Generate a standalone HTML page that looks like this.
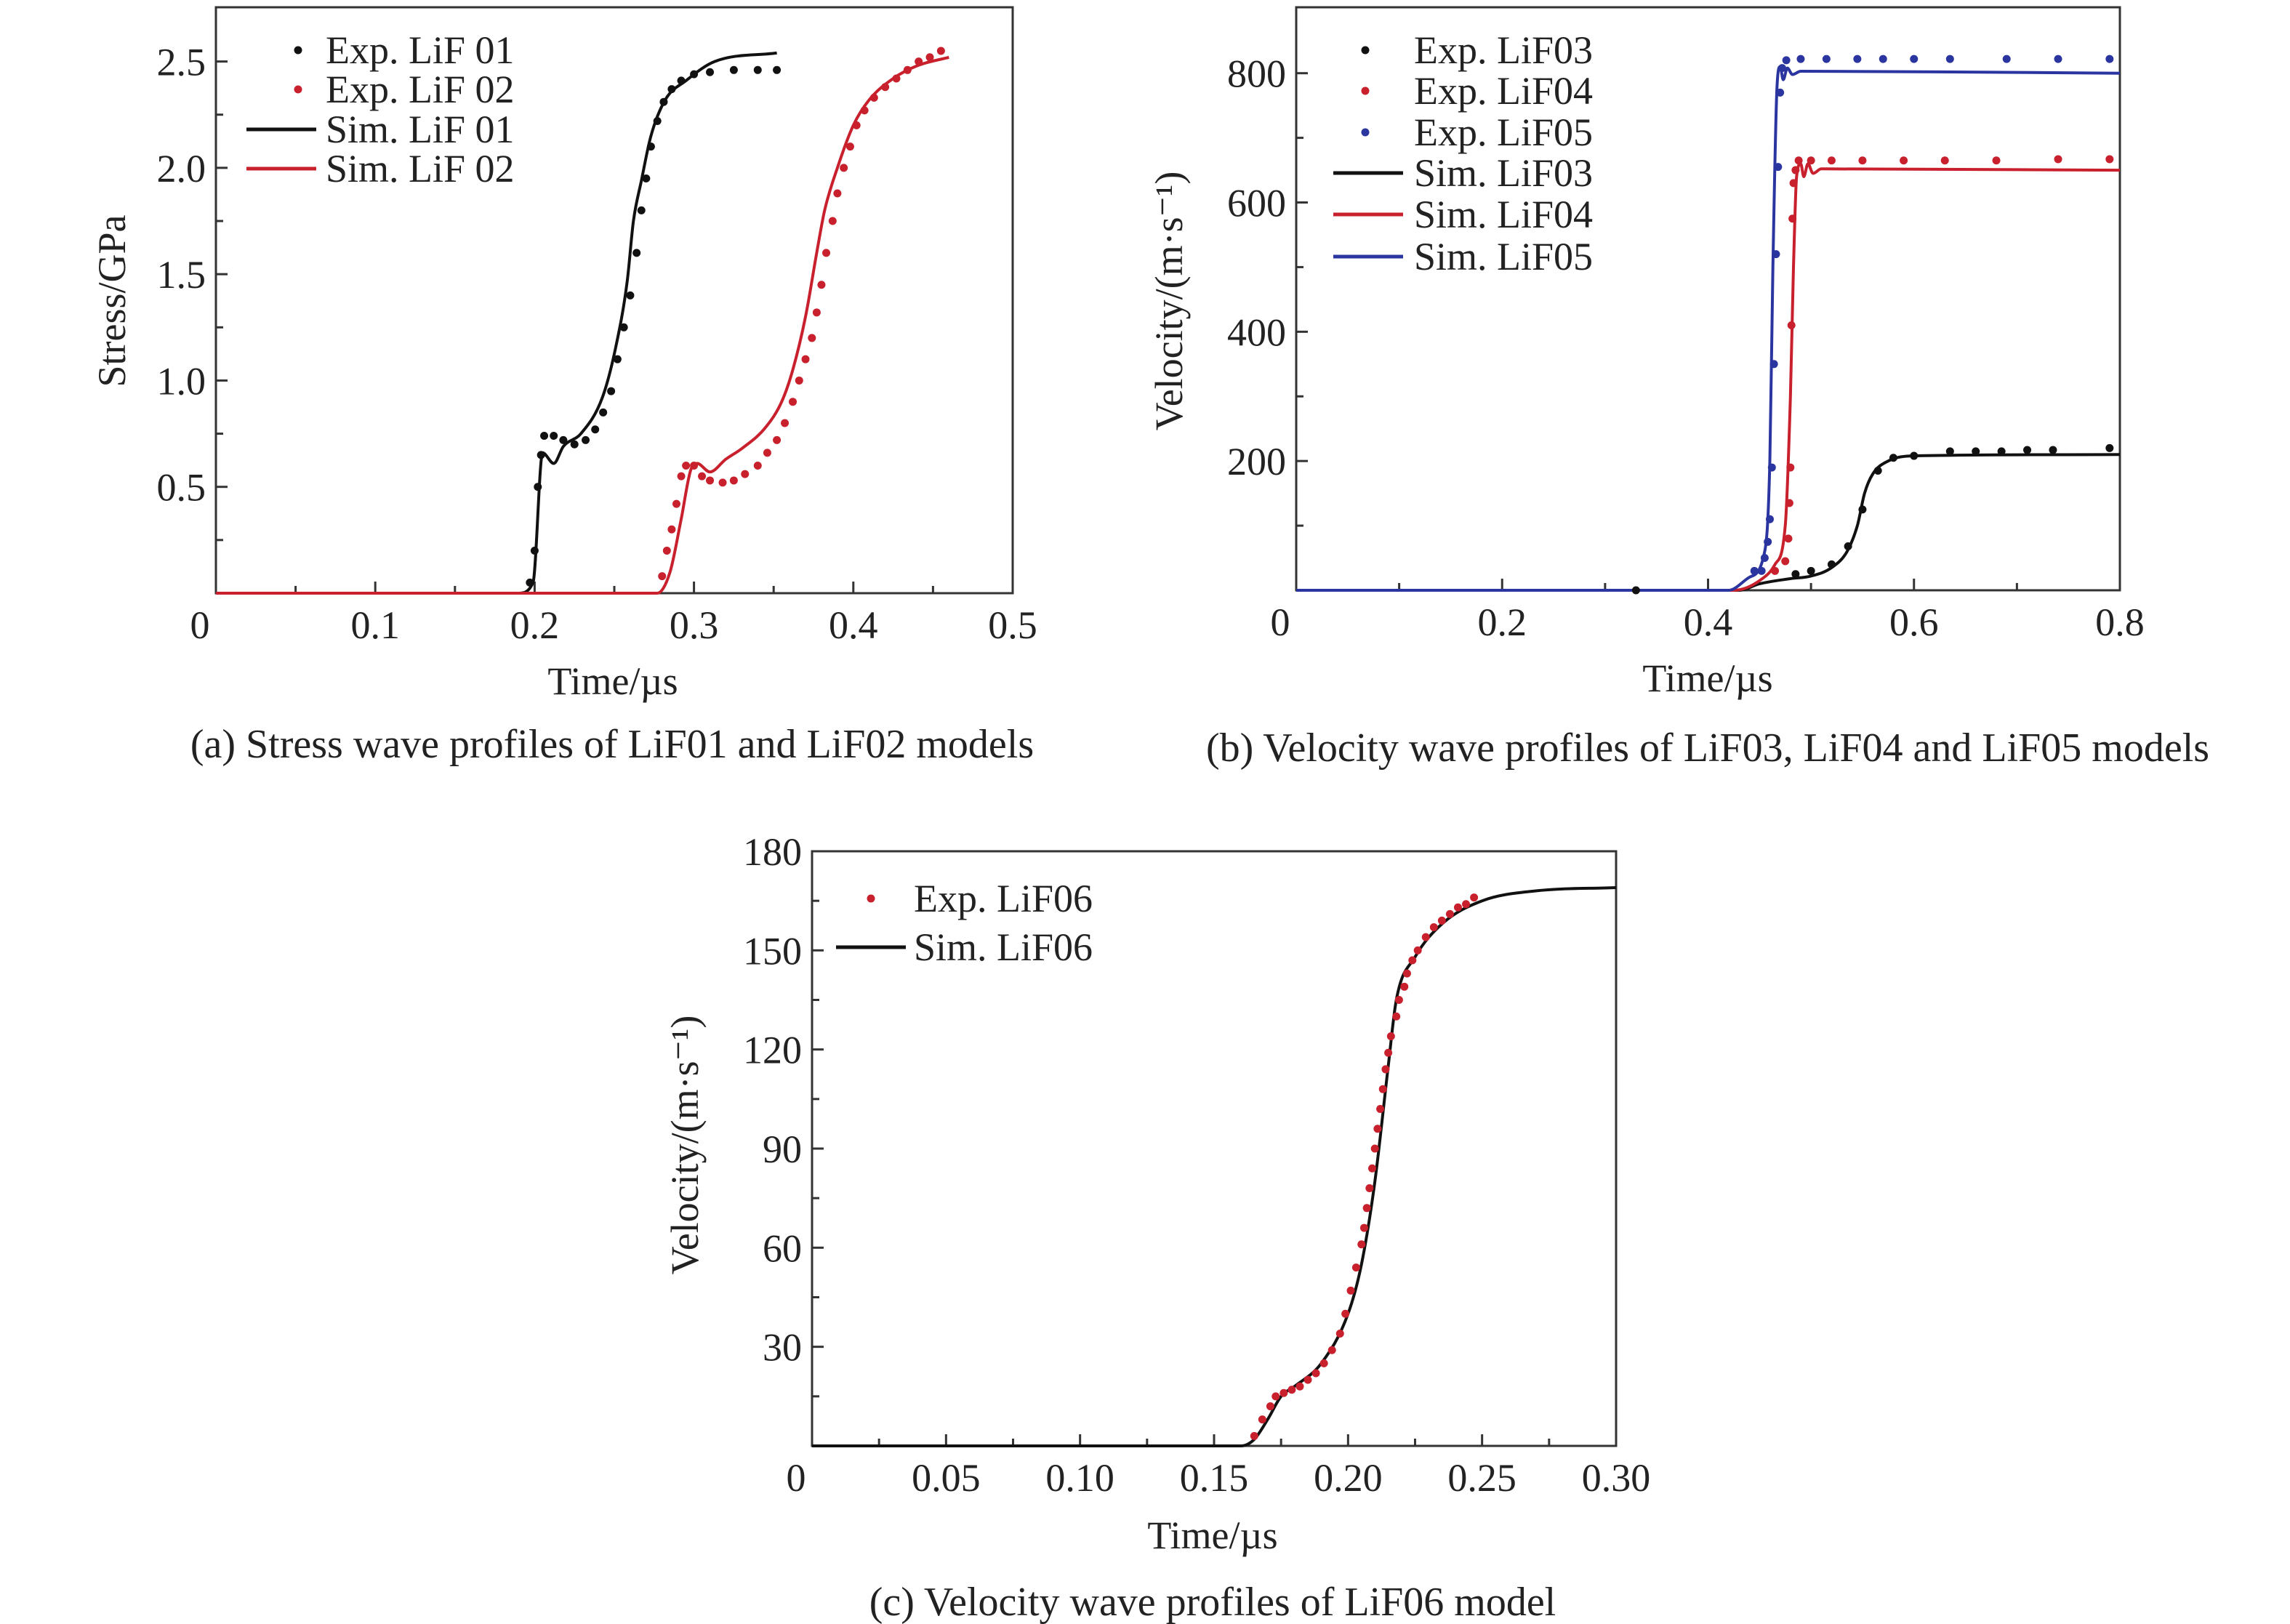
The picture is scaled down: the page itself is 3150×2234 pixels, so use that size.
<!DOCTYPE html>
<html><head><meta charset="utf-8"><style>
html,body{margin:0;padding:0;background:#fff}
svg{display:block}
text{font-family:"Liberation Serif",serif;fill:#222}
</style></head><body>
<svg id="fig" width="3150" height="2234" viewBox="0 0 3150 2234" xmlns="http://www.w3.org/2000/svg"></svg>
<script>
// ---- Panel (a) data ----
const aSim01T=[0,0.19,0.199,0.205,0.212,0.218,0.229,0.2425,0.251,0.258,0.262,0.267,0.273,0.282,0.295,0.313,0.352];
const aSim01V=[0,0,0.05,0.66,0.61,0.69,0.75,0.92,1.16,1.46,1.75,1.94,2.15,2.32,2.41,2.5,2.54];
const aExp01T=[0.197,0.2,0.202,0.204,0.206,0.212,0.218,0.225,0.232,0.238,0.243,0.248,0.252,0.256,0.26,0.264,0.267,0.27,0.273,0.277,0.281,0.286,0.292,0.3,0.31,0.325,0.34,0.352];
const aExp01V=[0.05,0.2,0.5,0.65,0.74,0.74,0.72,0.7,0.72,0.77,0.85,0.95,1.1,1.25,1.4,1.6,1.8,1.95,2.1,2.22,2.31,2.37,2.41,2.44,2.45,2.46,2.46,2.46];
const aSim02T=[0,0.277,0.285,0.292,0.298,0.302,0.31,0.32,0.33,0.345,0.355,0.362,0.37,0.377,0.382,0.39,0.4,0.41,0.425,0.44,0.46];
const aSim02V=[0,0,0.1,0.35,0.58,0.61,0.57,0.63,0.68,0.78,0.9,1.05,1.3,1.6,1.8,2.0,2.2,2.32,2.42,2.48,2.52];
const aExp02T=[0.28,0.283,0.286,0.289,0.292,0.295,0.3,0.305,0.31,0.318,0.325,0.332,0.34,0.346,0.352,0.357,0.362,0.366,0.37,0.374,0.377,0.38,0.383,0.387,0.39,0.394,0.398,0.402,0.407,0.413,0.42,0.427,0.434,0.441,0.448,0.455];
const aExp02V=[0.08,0.2,0.3,0.42,0.55,0.6,0.6,0.55,0.53,0.52,0.53,0.56,0.6,0.66,0.72,0.8,0.9,1.0,1.1,1.2,1.32,1.45,1.6,1.75,1.88,2.0,2.1,2.2,2.27,2.33,2.38,2.42,2.46,2.5,2.52,2.55];
const aXTicks=[0,0.1,0.2,0.3,0.4,0.5];
const aXLabels=["0","0.1","0.2","0.3","0.4","0.5"];
const aYTicks=[0.5,1.0,1.5,2.0,2.5];
const aYLabels=["0.5","1.0","1.5","2.0","2.5"];
// ---- Panel (b) data ----
const bSim05T=[0,0.42,0.44,0.455,0.46,0.463,0.467,0.47,0.473,0.477,0.482,0.49,0.8];
const bSim05V=[0,0,20,60,200,500,780,810,790,808,798,803,800];
const bExp05T=[0.445,0.452,0.455,0.458,0.46,0.462,0.464,0.466,0.468,0.47,0.472,0.476,0.49,0.515,0.545,0.57,0.6,0.635,0.69,0.74,0.79];
const bExp05V=[30,30,50,75,110,190,350,520,655,770,808,820,822,822,822,822,822,822,822,822,822];
const bSim04T=[0,0.425,0.45,0.465,0.475,0.48,0.483,0.486,0.49,0.493,0.497,0.502,0.51,0.8];
const bSim04V=[0,0,15,40,100,300,500,640,660,640,660,645,652,650];
const bExp04T=[0.465,0.475,0.478,0.479,0.48,0.481,0.482,0.483,0.485,0.488,0.5,0.52,0.55,0.59,0.63,0.68,0.74,0.79];
const bExp04V=[30,45,80,135,190,410,575,630,650,665,665,665,665,665,665,665,667,667];
const bSim03T=[0,0.43,0.45,0.48,0.5,0.52,0.535,0.545,0.552,0.56,0.575,0.6,0.8];
const bSim03V=[0,0,10,18,22,35,60,100,150,180,200,208,210];
const bExp03T=[0.33,0.485,0.5,0.52,0.536,0.55,0.565,0.58,0.6,0.635,0.66,0.685,0.71,0.735,0.79];
const bExp03V=[0,25,30,40,68,125,185,205,208,215,215,215,217,217,220];
const bXTicks=[0,0.2,0.4,0.6,0.8];
const bXLabels=["0","0.2","0.4","0.6","0.8"];
const bYTicks=[200,400,600,800];
const bYLabels=["200","400","600","800"];
// ---- Panel (c) data ----
const cSimT=[0,0.16,0.165,0.17,0.175,0.18,0.19,0.2,0.205,0.21,0.215,0.218,0.225,0.235,0.25,0.27,0.3];
const cSimV=[0,0,2,8,15,18,25,40,55,80,115,135,148,158,165,168,169];
const cExpT=[0.165,0.168,0.171,0.173,0.176,0.179,0.182,0.185,0.188,0.191,0.194,0.197,0.199,0.201,0.203,0.205,0.206,0.207,0.208,0.209,0.21,0.211,0.212,0.213,0.214,0.215,0.216,0.218,0.219,0.221,0.222,0.224,0.226,0.229,0.232,0.235,0.238,0.241,0.244,0.247];
const cExpV=[3,8,12,15,16,17,18,20,22,25,29,34,40,47,54,61,66,72,78,84,90,96,102,108,114,119,124,130,135,139,143,147,150,154,157,159,161,163,164,166];
const cXTicks=[0,0.05,0.10,0.15,0.20,0.25,0.30];
const cXLabels=["0","0.05","0.10","0.15","0.20","0.25","0.30"];
const cYTicks=[30,60,90,120,150,180];
const cYLabels=["30","60","90","120","150","180"];

const NS="http://www.w3.org/2000/svg";
const svg=document.getElementById('fig');
function mk(tag,attrs,parent){const e=document.createElementNS(NS,tag);for(const k in attrs)e.setAttribute(k,attrs[k]);(parent||svg).appendChild(e);return e;}
function txt(s,x,y,size,anchor,parent,rot){const t=mk('text',{x:x,y:y,'font-size':size,'text-anchor':anchor||'middle'},parent);if(rot)t.setAttribute('transform','rotate(-90 '+x+' '+y+')');t.textContent=s;return t;}
// monotone cubic (Fritsch–Carlson) path through screen points with increasing x
function smooth(p){
  const n=p.length;const d=[],m=[];
  for(let i=0;i<n-1;i++)d.push((p[i+1][1]-p[i][1])/(p[i+1][0]-p[i][0]));
  m[0]=d[0];m[n-1]=d[n-2];
  for(let i=1;i<n-1;i++){m[i]=(d[i-1]*d[i]<=0)?0:(d[i-1]+d[i])/2;}
  for(let i=0;i<n-1;i++){
    if(d[i]===0){m[i]=0;m[i+1]=0;continue;}
    const a=m[i]/d[i],b=m[i+1]/d[i],h=a*a+b*b;
    if(h>9){const t=3/Math.sqrt(h);m[i]=t*a*d[i];m[i+1]=t*b*d[i];}
  }
  let s='M'+p[0][0].toFixed(1)+' '+p[0][1].toFixed(1);
  for(let i=0;i<n-1;i++){
    const h=(p[i+1][0]-p[i][0])/3;
    s+=' C'+(p[i][0]+h).toFixed(1)+' '+(p[i][1]+m[i]*h).toFixed(1)+' '+(p[i+1][0]-h).toFixed(1)+' '+(p[i+1][1]-m[i+1]*h).toFixed(1)+' '+p[i+1][0].toFixed(1)+' '+p[i+1][1].toFixed(1);
  }
  return s;
}
const FS=54;
function panel(cfg){
  const g=mk('g',{});
  
  
  const L=cfg.L,R=cfg.R,T=cfg.T,B=cfg.B;
  const sx=v=>L+(v-cfg.x0)/(cfg.x1-cfg.x0)*(R-L);
  const sy=v=>B-(v-cfg.y0)/(cfg.y1-cfg.y0)*(B-T);
  const box=mk('rect',{x:L,y:T,width:R-L,height:B-T,fill:'none',stroke:'#333','stroke-width':3},g);
  
  
  cfg.xt.forEach((v,i)=>{
    mk('line',{x1:sx(v),x2:sx(v),y1:B,y2:B-16,stroke:'#333','stroke-width':3},g);
    if(i<cfg.xt.length-1){const m=(v+cfg.xt[i+1])/2;mk('line',{x1:sx(m),x2:sx(m),y1:B,y2:B-10,stroke:'#333','stroke-width':3},g);}
    const t=txt(cfg.xl[i],sx(v)+(i==0?-22:0),B+62,FS,'middle',g);
    
    
  });
  cfg.yt.forEach((v,i)=>{
    mk('line',{x1:L,x2:L+16,y1:sy(v),y2:sy(v),stroke:'#333','stroke-width':3},g);
    const prev=i==0?cfg.y0:cfg.yt[i-1];const m=(v+prev)/2;
    mk('line',{x1:L,x2:L+10,y1:sy(m),y2:sy(m),stroke:'#333','stroke-width':3},g);
    const t=txt(cfg.yl[i],L-14,sy(v)+19,FS,'end',g);
    
    
  });
  const xt=txt('Time/µs',cfg.xtx,cfg.xty,FS,'middle',g);
  
  
  const yt=txt(cfg.ytitle,cfg.ytx,cfg.yty,FS,'middle',g,true);
  
  
  const cap=txt(cfg.caption,cfg.capx,cfg.capy,56,'middle',g);
  
  
  cfg.lines.forEach(s=>{
    const d=smooth(s.t.map((v,i)=>[sx(v),sy(s.v[i])]));
    const p=mk('path',{d:d,fill:'none',stroke:s.c,'stroke-width':4,'stroke-linejoin':'round'},g);
    
    
  });
  cfg.dots.forEach(s=>{
    const dg=mk('g',{fill:s.c},g);
    
    
    s.t.forEach((v,i)=>{mk('circle',{cx:sx(v),cy:sy(s.v[i]),r:5.5},dg);});
  });
  const lg=mk('g',{},g);
  
  
  cfg.legend.forEach(e=>{
    const eg=mk('g',{},lg);
    
    
    if(e.dot) mk('circle',{cx:e.mx,cy:e.y,r:5.5,fill:e.c},eg);
    else mk('line',{x1:e.mx-48,x2:e.mx+48,y1:e.y,y2:e.y,stroke:e.c,'stroke-width':5},eg);
    txt(e.s,cfg.legx,e.y+18,FS,'start',eg);
  });
}
const K='#111',Rd='#c8202c',Bl='#2b35a0';
panel({name:'panel-a-stress',L:297,R:1393,T:10,B:816,x0:0,x1:0.5,y0:0,y1:2.755,
  xt:aXTicks,xl:aXLabels,yt:aYTicks,yl:aYLabels,xtx:843,xty:955,ytitle:'Stress/GPa',ytx:172,yty:414,
  caption:'(a) Stress wave profiles of LiF01 and LiF02 models',capx:842,capy:1042,
  lines:[{t:aSim01T,v:aSim01V,c:K,n:'sim-lif01-line'},{t:aSim02T,v:aSim02V,c:Rd,n:'sim-lif02-line'}],
  dots:[{t:aExp01T,v:aExp01V,c:K,n:'exp-lif01-points'},{t:aExp02T,v:aExp02V,c:Rd,n:'exp-lif02-points'}],
  legx:448,legend:[{dot:1,mx:410,y:69,c:K,s:'Exp. LiF 01'},{dot:1,mx:410,y:123,c:Rd,s:'Exp. LiF 02'},{mx:387,y:178,c:K,s:'Sim. LiF 01'},{mx:387,y:232,c:Rd,s:'Sim. LiF 02'}]});
panel({name:'panel-b-velocity',L:1783,R:2916,T:10,B:812,x0:0,x1:0.8,y0:0,y1:902,
  xt:bXTicks,xl:bXLabels,yt:bYTicks,yl:bYLabels,xtx:2349,xty:951,ytitle:'Velocity/(m·s⁻¹)',ytx:1626,yty:414,
  caption:'(b) Velocity wave profiles of LiF03, LiF04 and LiF05 models',capx:2349,capy:1047,
  lines:[{t:bSim03T,v:bSim03V,c:K,n:'sim-lif03-line'},{t:bSim04T,v:bSim04V,c:Rd,n:'sim-lif04-line'},{t:bSim05T,v:bSim05V,c:Bl,n:'sim-lif05-line'}],
  dots:[{t:bExp03T,v:bExp03V,c:K,n:'exp-lif03-points'},{t:bExp04T,v:bExp04V,c:Rd,n:'exp-lif04-points'},{t:bExp05T,v:bExp05V,c:Bl,n:'exp-lif05-points'}],
  legx:1945,legend:[{dot:1,mx:1878,y:69,c:K,s:'Exp. LiF03'},{dot:1,mx:1878,y:125,c:Rd,s:'Exp. LiF04'},{dot:1,mx:1878,y:182,c:Bl,s:'Exp. LiF05'},{mx:1882,y:238,c:K,s:'Sim. LiF03'},{mx:1882,y:295,c:Rd,s:'Sim. LiF04'},{mx:1882,y:353,c:Bl,s:'Sim. LiF05'}]});
panel({name:'panel-c-velocity',L:1117,R:2223,T:1171,B:1989,x0:0,x1:0.30,y0:0,y1:180,
  xt:cXTicks,xl:cXLabels,yt:cYTicks,yl:cYLabels,xtx:1668,xty:2130,ytitle:'Velocity/(m·s⁻¹)',ytx:960,yty:1575,
  caption:'(c) Velocity wave profiles of LiF06 model',capx:1668,capy:2222,
  lines:[{t:cSimT,v:cSimV,c:K,n:'sim-lif06-line'}],
  dots:[{t:cExpT,v:cExpV,c:Rd,n:'exp-lif06-points'}],
  legx:1257,legend:[{dot:1,mx:1198,y:1236,c:Rd,s:'Exp. LiF06'},{mx:1198,y:1303,c:K,s:'Sim. LiF06'}]});
</script>
</body></html>
